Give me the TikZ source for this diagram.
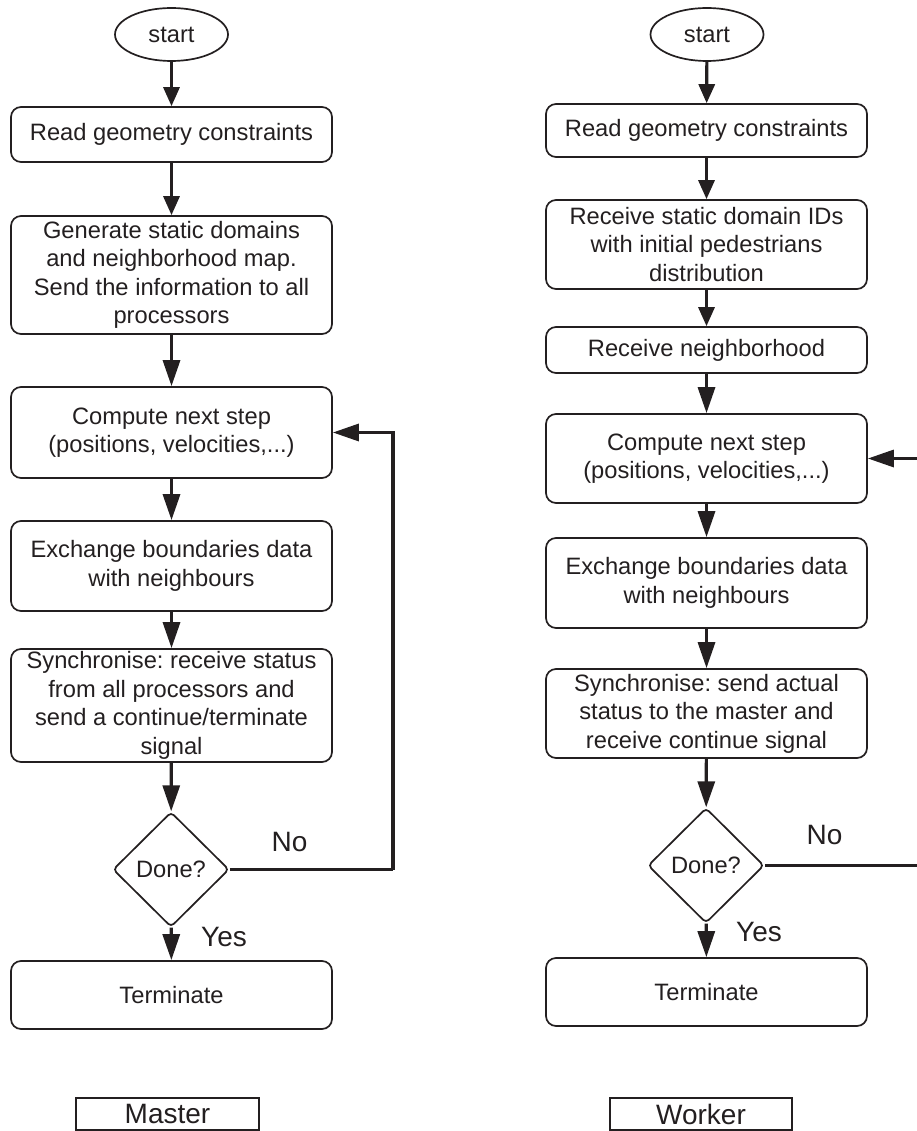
\documentclass[tikz,border=0pt]{standalone}
\usepackage{fontspec}
\setmainfont{Liberation Sans}
\usetikzlibrary{arrows.meta,shapes.geometric}
\definecolor{ink}{HTML}{231F20}
\frenchspacing
\tikzset{
  every node/.style={text=ink},
  stepbox/.style={draw=ink, line width=1.7pt, rounded corners=10pt, minimum width=321pt,
    inner sep=0pt, align=center, font=\fontsize{23.7}{28.5}\selectfont},
  startoval/.style={draw=ink, line width=1.7pt, ellipse, minimum width=113pt, minimum height=53pt,
    inner sep=0pt, font=\fontsize{23.7}{28.5}\selectfont},
  decision/.style={draw=ink, line width=1.7pt, diamond, minimum width=116pt, minimum height=115pt,
    inner sep=0pt, rounded corners=4pt, font=\fontsize{23.7}{28.5}\selectfont},
  rolebox/.style={draw=ink, line width=1.8pt, minimum height=32pt, inner sep=0pt,
    font=\fontsize{28}{32}\selectfont},
  flowlabel/.style={font=\fontsize{28}{32}\selectfont},
  flow/.style={draw=ink, line width=3.2pt, -{Triangle[length=26pt,width=17pt]}},
  flowshort/.style={draw=ink, line width=3.2pt, -{Triangle[length=19pt,width=16pt]}},
  loopline/.style={draw=ink, line width=3pt},
}
\begin{document}
\begin{tikzpicture}[x=1pt,y=-1pt]
\useasboundingbox (0,0) rectangle (917,1131);
\clip (0,0) rectangle (917,1131);

% ---- Master column ----
\node[startoval] (ls) at (171.5,34.5) {start};
\node[stepbox, minimum height=55pt] (lr) at (171.5,134.5) {Read geometry constraints};
\node[stepbox, minimum height=118pt] (lg) at (171.5,275) {Generate static domains\\and neighborhood map.\\Send the information to all\\processors};
\node[stepbox, minimum height=91pt] (lc) at (171.5,432.5) {Compute next step\\(positions, velocities,...)};
\node[stepbox, minimum height=90pt] (le) at (171.5,566) {Exchange boundaries data\\with neighbours};
\node[stepbox, minimum height=113pt] (ly) at (171.5,705.5) {Synchronise: receive status\\from all processors and\\send a continue/terminate\\signal};
\node[decision] (ld) at (171,869.5) {Done?};
\node[stepbox, minimum height=68pt] (lt) at (171.5,995) {Terminate};
\node[rolebox, minimum width=183pt] (lm) at (167.5,1114) {Master};
\coordinate (lloop) at (393,869.5);

\draw[flowshort] (ls) -- (lr);
\draw[flowshort] (lr) -- (lg);
\draw[flow] (lg) -- (lc);
\draw[flow] (lc) -- (le);
\draw[flow] (le) -- (ly);
\draw[flow] (ly) -- (ld);
\draw[flow] (ld) -- (lt);
\draw[loopline] (ld.east) -- (lloop);
\draw[flow] (lloop) |- (lc.east);
\node[flowlabel] at (289.5,842) {No};
\node[flowlabel] at (224,937) {Yes};

% ---- Worker column ----
\node[startoval] (rs) at (707,34.5) {start};
\node[stepbox, minimum height=53pt] (rr) at (706.5,130.5) {Read geometry constraints};
\node[stepbox, minimum height=89pt] (ri) at (706.5,244.5) {Receive static domain IDs\\with initial pedestrians\\distribution};
\node[stepbox, minimum height=46pt] (rn) at (706.5,350) {Receive neighborhood};
\node[stepbox, minimum height=89pt] (rc) at (706.5,458.5) {Compute next step\\(positions, velocities,...)};
\node[stepbox, minimum height=90pt] (re) at (706.5,583) {Exchange boundaries data\\with neighbours};
\node[stepbox, minimum height=89pt] (ry) at (706.5,713.5) {Synchronise: send actual\\status to the master and\\receive continue signal};
\node[decision] (rd) at (706,865.5) {Done?};
\node[stepbox, minimum height=68pt] (rt) at (706.5,992) {Terminate};
\node[rolebox, minimum width=182pt] (rw) at (701,1114) {Worker};
\coordinate (rloop) at (940,865.5);

\draw[flowshort] (rs) -- (rr);
\draw[flowshort] (rr) -- (ri);
\draw[flowshort] (ri) -- (rn);
\draw[flow] (rn) -- (rc);
\draw[flow] (rc) -- (re);
\draw[flow] (re) -- (ry);
\draw[flow] (ry) -- (rd);
\draw[flow] (rd) -- (rt);
\draw[loopline] (rd.east) -- (rloop);
\draw[flow] (rloop) |- (rc.east);
\node[flowlabel] at (824.5,835) {No};
\node[flowlabel] at (759,932) {Yes};
\end{tikzpicture}
\end{document}
